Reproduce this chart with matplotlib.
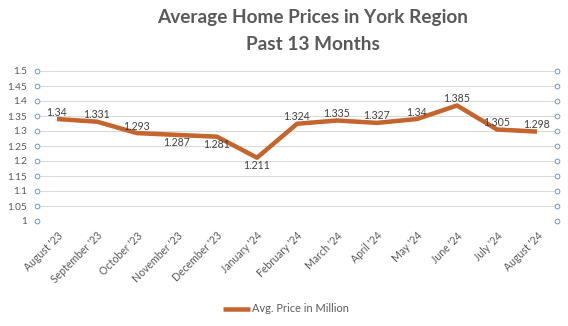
import matplotlib.pyplot as plt
import numpy as np

months = ["August '23", "September '23", "October '23", "November '23", "December '23",
          "January '24", "February '24", "March '24", "April '24", "May '24",
          "June '24", "July '24", "August '24"]
avg_price = [1.34, 1.331, 1.293, 1.287, 1.281, 1.211, 1.324, 1.335, 1.327, 1.34,
             1.385, 1.305, 1.298]
y_ticks = [1.0, 1.05, 1.1, 1.15, 1.2, 1.25, 1.3, 1.35, 1.4, 1.45, 1.5]
# which labels sit under the line instead of above it
label_below = [False, False, False, True, True, True, False, False, False, False,
               False, False, False]

plt.rcParams["font.family"] = ["Lato", "DejaVu Sans"]
text_grey = "#595959"
line_color = "#c4652e"

W, H = 568, 326
fig = plt.figure(figsize=(W / 72, H / 72), dpi=72)
ax = fig.add_axes([37 / W, 105 / H, 520 / W, 150 / H])

x = np.arange(len(months))
ax.plot(x, avg_price, color=line_color, lw=4.5, solid_capstyle="butt",
        solid_joinstyle="round", label="Avg. Price in Million", zorder=3)

for xi, v, below in zip(x, avg_price, label_below):
    ax.annotate(f"{v:g}", (xi, v), xytext=(0, -8 if below else 7),
                textcoords="offset points", ha="center", va="center",
                fontsize=10.5, color="#404040", zorder=4)

ax.set_xlim(-0.5, len(months) - 0.5)
ax.set_ylim(1.0, 1.5)
ax.set_yticks(y_ticks)
ax.set_yticklabels([f"{t:g}" for t in y_ticks])
ax.set_xticks(x)
ax.set_xticklabels(months, rotation=45, ha="right", rotation_mode="anchor")
ax.tick_params(axis="y", length=0, pad=10, labelsize=10, labelcolor=text_grey)
ax.tick_params(axis="x", length=0, pad=9, labelsize=10.5, labelcolor=text_grey)
ax.grid(axis="y", color="#d9d9d9", lw=1)
ax.set_axisbelow(True)
for s in ax.spines.values():
    s.set_visible(False)

# hollow circle markers on both axis edges
for edge in (-0.5, len(months) - 0.5):
    ax.scatter([edge] * len(y_ticks), y_ticks, s=22, facecolor="white",
               edgecolor="#6f9cc8", lw=1, clip_on=False, zorder=5)

fig.text(313 / W, 1 - 18 / H, "Average Home Prices in York Region", ha="center",
         va="center", fontsize=19, fontweight="bold", color=text_grey)
fig.text(313 / W, 1 - 44 / H, "Past 13 Months", ha="center", va="center",
         fontsize=19, fontweight="bold", color=text_grey)

fig.legend(loc="center", bbox_to_anchor=(286 / W, 1 - 309 / H), frameon=False,
           fontsize=11, labelcolor=text_grey, handlelength=2.5, handletextpad=0.2)

fig.savefig("out.png", dpi=72)
